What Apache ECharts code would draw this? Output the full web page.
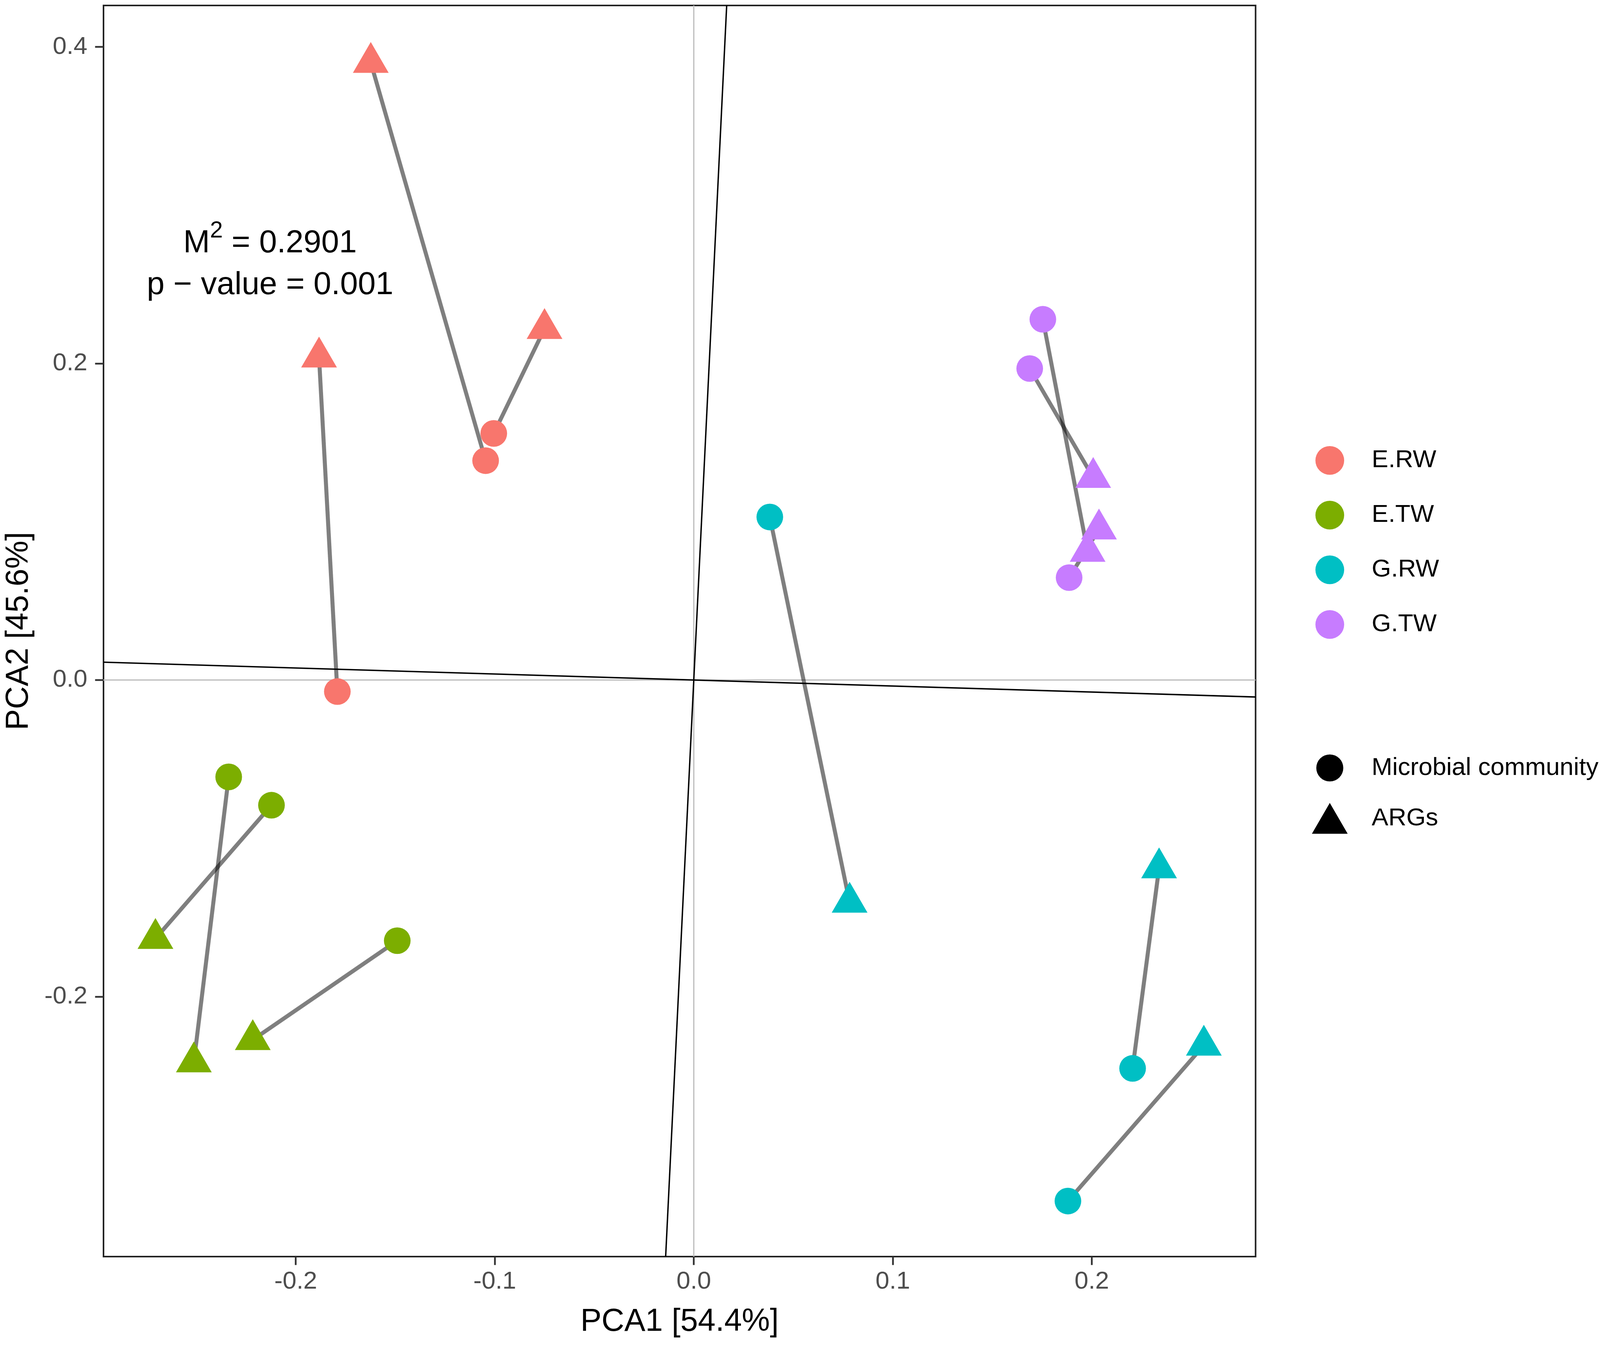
<!DOCTYPE html>
<html>
<head>
<meta charset="utf-8">
<title>Procrustes PCA</title>
<script src="https://cdn.jsdelivr.net/npm/echarts@6.0.0/dist/echarts.min.js"></script>
<style>
html, body { margin: 0; padding: 0; background: #fff; overflow: hidden; }
#chart { width: 100vw; height: 100vh; }
</style>
</head>
<body>
<div id="chart"></div>
<script>
var groups = ['E.RW', 'E.TW', 'G.RW', 'G.TW'];
var shapes = ['Microbial community', 'ARGs'];

// sample positions, microbial community and ARGs paired by index
var eRWMicrobial = [[-0.1046, 0.1386], [-0.1005, 0.1558], [-0.1791, -0.0073]];
var eRWArgs      = [[-0.1623, 0.3901], [-0.0750, 0.2220], [-0.1883, 0.2040]];
var eTWMicrobial = [[-0.2337, -0.0612], [-0.2122, -0.0791], [-0.1490, -0.1647]];
var eTWArgs      = [[-0.2512, -0.2414], [-0.2705, -0.1634], [-0.2216, -0.2273]];
var gRWMicrobial = [[0.0382, 0.1030], [0.2205, -0.2454], [0.1880, -0.3292]];
var gRWArgs      = [[0.0783, -0.1405], [0.2338, -0.1188], [0.2563, -0.2308]];
var gTWMicrobial = [[0.1688, 0.1968], [0.1754, 0.2279], [0.1886, 0.0647]];
var gTWArgs      = [[0.2007, 0.1279], [0.1979, 0.0812], [0.2036, 0.0953]];

var xTicks = [-0.2, -0.1, 0, 0.1, 0.2];
var yTicks = [-0.2, 0, 0.2, 0.4];
var xRange = [-0.2966, 0.2823];
var yRange = [-0.3643, 0.4262];
// procrustes rotation axes through the origin: x = a*y and y = b*x
var rotationSlopes = [0.0388, -0.038];

var colors = ['#F8766D', '#7CAE00', '#00BFC4', '#C77CFF'];
var FONT = '"Liberation Sans", Arial, sans-serif';

var dom = document.getElementById('chart');
// layout was measured on a 4562 x 3451 canvas, scale to whatever we get
var sx = dom.clientWidth / 4562, sy = dom.clientHeight / 3451, sf = Math.min(sx, sy);
function X(v) { return v * sx; }
function Y(v) { return v * sy; }
function F(v) { return v * sf; }

var CIRCLE = F(76), TRI_W = F(102), TRI_H = F(88);

var microbial = [eRWMicrobial, eTWMicrobial, gRWMicrobial, gTWMicrobial];
var args = [eRWArgs, eTWArgs, gRWArgs, gTWArgs];

var segments = [];
var series = [];

function refLine(data, color, width) {
    return {
        type: 'line', silent: true, z: 1, showSymbol: false, symbol: 'none',
        data: data, lineStyle: { color: color, width: width }
    };
}
// grey zero lines
series.push(refLine([[0, yRange[0]], [0, yRange[1]]], '#BEBEBE', F(3.5)));
series.push(refLine([[xRange[0], 0], [xRange[1], 0]], '#BEBEBE', F(3.5)));
// rotation axes
series.push(refLine([[rotationSlopes[0] * yRange[0], yRange[0]], [rotationSlopes[0] * yRange[1], yRange[1]]], '#000', F(4)));
series.push(refLine([[xRange[0], rotationSlopes[1] * xRange[0]], [xRange[1], rotationSlopes[1] * xRange[1]]], '#000', F(4)));

groups.forEach(function (g, i) {
    var pts = [];
    microbial[i].forEach(function (m, k) {
        segments.push({ coords: [m, args[i][k]] });
        pts.push({ value: m, symbol: 'circle', symbolSize: CIRCLE });
        pts.push({ value: args[i][k], symbol: 'triangle', symbolSize: [TRI_W, TRI_H], symbolOffset: [0, -TRI_H / 6] });
    });
    series.push({
        name: g, type: 'scatter', z: 3, data: pts,
        itemStyle: { color: colors[i], opacity: 1 },
        emphasis: { disabled: true }
    });
});

series.push({
    type: 'lines', coordinateSystem: 'cartesian2d', z: 2, silent: true,
    data: segments,
    lineStyle: { color: '#000', width: F(11.5), opacity: 0.5 }
});

// empty series only for the shape legend
series.push({ name: shapes[0], type: 'scatter', data: [], symbol: 'circle', itemStyle: { color: '#000', opacity: 1 } });
series.push({ name: shapes[1], type: 'scatter', data: [], symbol: 'triangle', itemStyle: { color: '#000', opacity: 1 } });

var legendText = { fontFamily: FONT, fontSize: F(71), color: '#000' };

var option = {
    backgroundColor: '#fff',
    animation: false,
    grid: {
        left: X(278), top: Y(14), width: X(3302), height: Y(3203),
        show: true, borderColor: '#222', borderWidth: F(4.5), backgroundColor: 'transparent'
    },
    xAxis: {
        type: 'value', min: xRange[0], max: xRange[1],
        name: 'PCA1 [54.4%]', nameLocation: 'middle', nameGap: Y(127),
        nameTextStyle: { fontFamily: FONT, fontSize: F(90), color: '#000' },
        axisLine: { show: false, onZero: false },
        axisTick: { show: true, length: F(24), customValues: xTicks, lineStyle: { color: '#333', width: F(5) } },
        axisLabel: {
            customValues: xTicks, margin: Y(32), color: '#4D4D4D', fontFamily: FONT, fontSize: F(71),
            formatter: function (v) { return v.toFixed(1); }
        },
        splitLine: { show: false }
    },
    yAxis: {
        type: 'value', min: yRange[0], max: yRange[1],
        name: 'PCA2 [45.6%]', nameLocation: 'middle', nameGap: X(196),
        nameTextStyle: { fontFamily: FONT, fontSize: F(90), color: '#000' },
        axisLine: { show: false, onZero: false },
        axisTick: { show: true, length: F(24), customValues: yTicks, lineStyle: { color: '#333', width: F(5) } },
        axisLabel: {
            customValues: yTicks, margin: X(46), color: '#4D4D4D', fontFamily: FONT, fontSize: F(71),
            formatter: function (v) { return v.toFixed(1); }
        },
        splitLine: { show: false }
    },
    legend: [
        {
            data: groups.map(function (g) { return { name: g, icon: 'circle' }; }),
            orient: 'vertical', left: X(3745), top: Y(1137), itemWidth: F(82), itemHeight: F(82), itemGap: Y(140) - F(82),
            selectedMode: false, textStyle: Object.assign({ padding: [0, 0, 0, F(73)] }, legendText)
        },
        {
            data: [{ name: shapes[0], icon: 'circle' }],
            orient: 'vertical', left: X(3786) - F(38.5), top: Y(1961) - F(38.5), itemWidth: F(77), itemHeight: F(77),
            selectedMode: false, textStyle: Object.assign({ padding: [0, 0, 0, F(75)] }, legendText)
        },
        {
            data: [{ name: shapes[1], icon: 'triangle' }],
            orient: 'vertical', left: X(3786) - TRI_W / 2, top: Y(2090) - TRI_H / 2, itemWidth: TRI_W, itemHeight: TRI_H,
            selectedMode: false, textStyle: Object.assign({ padding: [F(30), 0, 0, F(63)] }, legendText)
        }
    ],
    graphic: [
        {
            type: 'text', x: X(770), y: Y(562), silent: true,
            style: {
                text: '{m|M}{s|2}{m| = 0.2901}',
                align: 'center', verticalAlign: 'top', fill: '#000',
                fontFamily: FONT, fontSize: F(91),
                rich: {
                    m: { fontFamily: FONT, fontSize: F(91), lineHeight: F(138), fill: '#000' },
                    s: { fontFamily: FONT, fontSize: F(66), lineHeight: F(66), verticalAlign: 'top', fill: '#000' }
                }
            }
        },
        {
            type: 'text', x: X(770), y: Y(730), silent: true,
            style: {
                text: 'p \u2212 value = 0.001',
                align: 'center', verticalAlign: 'middle', fill: '#000',
                fontFamily: FONT, fontSize: F(91)
            }
        }
    ],
    series: series
};

var chart = echarts.init(dom);
chart.setOption(option);
</script>
</body>
</html>
